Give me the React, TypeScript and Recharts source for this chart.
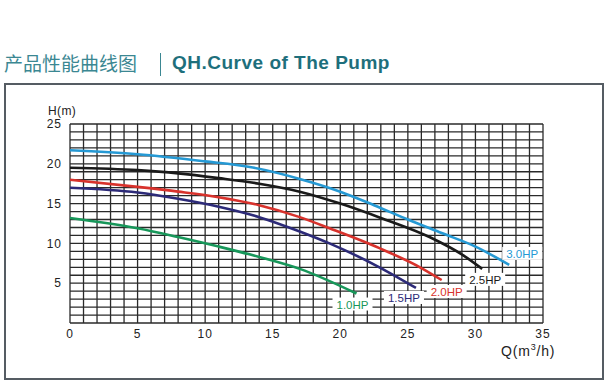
import { CartesianGrid, Line, LineChart, XAxis, YAxis } from "recharts";

// pump curves: Q (m3/h) vs H (m)
const hp30 = [
  { q: 0, h: 21.7 }, { q: 5, h: 21.2 }, { q: 10, h: 20.3 }, { q: 13.3, h: 19.6 },
  { q: 17, h: 18.1 }, { q: 20, h: 16.5 }, { q: 22.5, h: 14.8 }, { q: 25, h: 13.0 },
  { q: 27.5, h: 11.3 }, { q: 30, h: 9.6 }, { q: 32.5, h: 7.3 },
];
const hp25 = [
  { q: 0, h: 19.5 }, { q: 5, h: 19.2 }, { q: 8, h: 18.8 }, { q: 11, h: 18.2 },
  { q: 14, h: 17.5 }, { q: 17, h: 16.5 }, { q: 20, h: 15.0 }, { q: 23, h: 13.2 },
  { q: 26.6, h: 10.8 }, { q: 29.1, h: 8.5 }, { q: 30.5, h: 6.8 },
];
const hp20 = [
  { q: 0, h: 18.0 }, { q: 5, h: 17.1 }, { q: 8, h: 16.5 }, { q: 11, h: 15.8 },
  { q: 14, h: 14.8 }, { q: 17, h: 13.3 }, { q: 19.2, h: 11.9 }, { q: 22.9, h: 9.4 },
  { q: 25.9, h: 7.0 }, { q: 27.5, h: 5.4 },
];
const hp15 = [
  { q: 0, h: 17.0 }, { q: 5, h: 16.4 }, { q: 8, h: 15.6 }, { q: 11, h: 14.6 },
  { q: 14, h: 13.3 }, { q: 17, h: 11.5 }, { q: 19.2, h: 10.0 }, { q: 22.9, h: 7.0 },
  { q: 25.6, h: 4.4 },
];
const hp10 = [
  { q: 0, h: 13.2 }, { q: 5, h: 11.9 }, { q: 8, h: 10.8 }, { q: 11, h: 9.6 },
  { q: 14, h: 8.3 }, { q: 17, h: 6.8 }, { q: 21.2, h: 3.7 },
];

const qTicks = Array.from({ length: 36 }, (_, i) => i);
const hTicks = Array.from({ length: 26 }, (_, i) => i);

const series = [
  { name: "3.0HP", data: hp30, color: "#2599d4", dx: 13, dy: -11 },
  { name: "2.5HP", data: hp25, color: "#1a1a1a", dx: 3, dy: 11 },
  { name: "2.0HP", data: hp20, color: "#d8322c", dx: 5, dy: 12 },
  { name: "1.5HP", data: hp15, color: "#2c2a78", dx: -12, dy: 10 },
  { name: "1.0HP", data: hp10, color: "#17975a", dx: -4, dy: 11 },
];

const font = "'Liberation Sans', Arial, sans-serif";

const endLabel = (name: string, color: string, last: number, dx: number, dy: number) =>
  (props: any) => {
    if (props.index !== last) return null;
    const cx = props.x + dx;
    const cy = props.y + dy;
    return (
      <g key={name}>
        <rect x={cx - 20} y={cy - 7} width={40} height={13} fill="#fff" />
        <text x={cx} y={cy + 4} textAnchor="middle" fontSize={11.5} fill={color} fontFamily={font}>
          {name}
        </text>
      </g>
    );
  };

export default function App() {
  return (
    <div style={{ position: "fixed", left: 0, top: 0, width: 609, height: 388, background: "#fff", fontFamily: font }}>
      <div style={{ position: "absolute", left: 4, top: 50, fontSize: 19, color: "#3b8792", fontFamily: "'Noto Sans CJK SC', sans-serif", lineHeight: "26px" }}>
        产品性能曲线图
      </div>
      <div style={{ position: "absolute", left: 160, top: 53, width: 1, height: 23, background: "#3b8792" }} />
      <div style={{ position: "absolute", left: 172, top: 50, fontSize: 19, fontWeight: 700, color: "#1e6f7c", lineHeight: "26px", letterSpacing: 0.5 }}>
        QH.Curve of The Pump
      </div>
      <div style={{ position: "absolute", left: 4, top: 83, width: 596, height: 293, border: "2.5px solid #555c63" }} />
      <div style={{ position: "absolute", left: 48, top: 104, fontSize: 12, color: "#222", letterSpacing: 0.4 }}>H(m)</div>
      <div style={{ position: "absolute", left: 501, top: 342, fontSize: 14, color: "#222", letterSpacing: 0.8 }}>
        Q(m<sup style={{ fontSize: 9 }}>3</sup>/h)
      </div>
      <div style={{ position: "absolute", left: 0, top: 0 }}>
        <LineChart width={609} height={388} margin={{ top: 124, right: 66, bottom: 45, left: 30 }}>
          <CartesianGrid stroke="#2a2a2a" strokeWidth={1.3} />
          <XAxis
            type="number"
            dataKey="q"
            domain={[0, 35]}
            ticks={qTicks}
            interval={0}
            tickFormatter={(v: number) => (v % 5 === 0 ? String(v) : "")}
            axisLine={false}
            tickLine={false}
            height={20}
            tick={{ fill: "#222", fontSize: 12, fontFamily: font, letterSpacing: 1 }}
            tickMargin={0}
          />
          <YAxis
            type="number"
            domain={[0, 25]}
            ticks={hTicks}
            interval={0}
            tickFormatter={(v: number) => (v % 5 === 0 && v > 0 ? String(v) : "")}
            axisLine={false}
            tickLine={false}
            width={40}
            tick={{ fill: "#222", fontSize: 12, fontFamily: font, letterSpacing: 1 }}
            tickMargin={2}
          />
          {series.map((s) => (
            <Line
              key={s.name}
              data={s.data}
              dataKey="h"
              type="monotone"
              stroke={s.color}
              strokeWidth={2.6}
              dot={false}
              isAnimationActive={false}
              label={endLabel(s.name, s.color, s.data.length - 1, s.dx, s.dy)}
            />
          ))}
        </LineChart>
      </div>
    </div>
  );
}
